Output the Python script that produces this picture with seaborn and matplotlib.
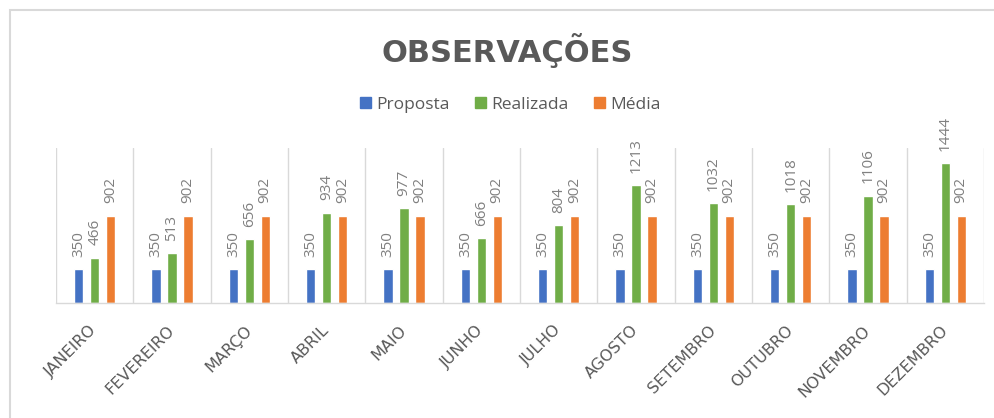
import matplotlib
matplotlib.use("Agg")
import matplotlib.pyplot as plt
import seaborn as sns
import pandas as pd
from matplotlib.patches import Rectangle

meses = ["JANEIRO", "FEVEREIRO", "MARÇO", "ABRIL", "MAIO", "JUNHO", "JULHO",
         "AGOSTO", "SETEMBRO", "OUTUBRO", "NOVEMBRO", "DEZEMBRO"]
proposta = [350, 350, 350, 350, 350, 350, 350, 350, 350, 350, 350, 350]
realizada = [466, 513, 656, 934, 977, 666, 804, 1213, 1032, 1018, 1106, 1444]
media = [902, 902, 902, 902, 902, 902, 902, 902, 902, 902, 902, 902]
series = ["Proposta", "Realizada", "Média"]
colors = ["#4472C4", "#70AD47", "#ED7D31"]

rows = []
for i, m in enumerate(meses):
    for s, vals in zip(series, [proposta, realizada, media]):
        rows.append({"mes": m, "serie": s, "valor": vals[i]})
df = pd.DataFrame(rows)

sns.set_theme(style="white")
plt.rcParams["font.family"] = ["Open Sans", "DejaVu Sans"]

fig = plt.figure(figsize=(9.95, 4.18), dpi=100)
ax = fig.add_axes([56/995, 1-303/418, (984-56)/995, (303-148)/418])

sns.barplot(data=df, x="mes", y="valor", hue="serie", order=meses,
            hue_order=series, palette=colors, width=0.615, gap=0.41,
            saturation=1, ax=ax, legend=False, errorbar=None)

for cont in ax.containers:
    ax.bar_label(cont, fmt="%d", rotation=90, padding=9, fontsize=11,
                 color="#808080")

ax.set_ylim(0, 1600)
ax.set_xlim(-0.5, len(meses)-0.5)
ax.set_yticks([])
ax.set_xlabel("")
ax.set_ylabel("")
for sp in ["top", "left", "right"]:
    ax.spines[sp].set_visible(False)
ax.spines["bottom"].set_color("#D9D9D9")
ax.spines["bottom"].set_linewidth(1)

for k in range(len(meses)+1):
    ax.axvline(k-0.5, color="#D9D9D9", lw=1, zorder=0)

ax.set_xticks(range(len(meses)))
ax.set_xticklabels(meses, rotation=45, ha="right", va="center",
                   rotation_mode="anchor", fontsize=11.5, color="#595959",
                   family=["DejaVu Sans"])
ax.tick_params(axis="x", length=0, pad=18)

fig.text(0.51, 1-50/418, "OBSERVAÇÕES", ha="center", va="center",
         fontsize=22, fontweight="bold", color="#595959",
         family=["DejaVu Sans"])

handles = [Rectangle((0, 0), 1, 1, color=c) for c in colors]
fig.legend(handles, series, loc="center", bbox_to_anchor=(0.513, 1-105/418),
           ncol=3, frameon=False, fontsize=12.5, handlelength=0.6,
           handleheight=0.6, handletextpad=0.3, columnspacing=1.5,
           labelcolor="#595959")

fig.patches.append(Rectangle((10/995, -0.1), 1.2, 1-10/418+0.1,
                             transform=fig.transFigure, fill=False,
                             edgecolor="#D9D9D9", lw=1.5))

fig.savefig("out.png", dpi=100)
